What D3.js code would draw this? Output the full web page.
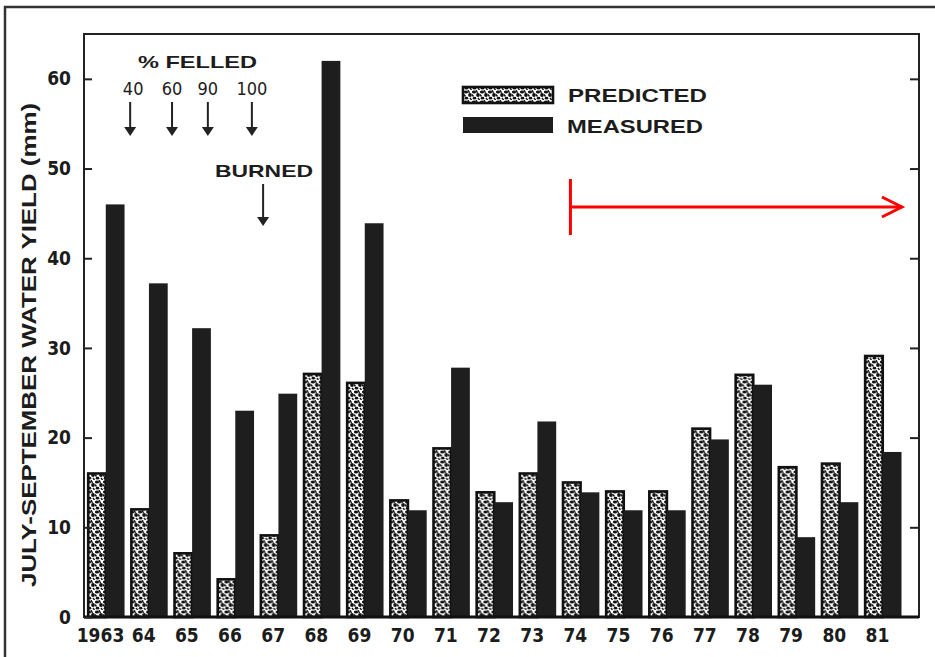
<!DOCTYPE html>
<html>
<head>
<meta charset="utf-8">
<script src="https://cdn.jsdelivr.net/npm/d3@7"></script>
<style>
body { margin: 0; background: #fff; }
text { font-family: "Liberation Sans", Arial, sans-serif; font-weight: bold; fill: #1c1c1c; }
.num { font-family: "DejaVu Sans Condensed", "DejaVu Sans", sans-serif; }
</style>
</head>
<body>
<svg width="935" height="657"></svg>
<script>
// values (mm)
var years = ["1963", "64", "65", "66", "67", "68", "69", "70", "71", "72",
             "73", "74", "75", "76", "77", "78", "79", "80", "81"];
var predicted = [16, 12, 7.1, 4.2, 9.1, 27.1, 26.1, 13, 18.8, 13.9,
                 16, 15, 14, 14, 21, 27, 16.7, 17.1, 29.1];
var measured = [46, 37.2, 32.2, 23, 24.9, 62, 43.9, 11.9, 27.8, 12.8,
                21.8, 13.9, 11.9, 11.9, 19.8, 25.9, 8.9, 12.8, 18.4];
var yTicks = [0, 10, 20, 30, 40, 50, 60];

// treatment notes (year as decimal)
var felledPct = ["40", "60", "90", "100"];
var felledAt = [1964.0, 1964.97, 1965.8, 1966.82];
var burnedAt = 1967.08;
var periodFrom = 1974.2, periodTo = 1981.88;

var svg = d3.select("svg"),
    plotL = 84, plotR = 919, plotT = 34, plotB = 617;

var x = d3.scaleBand()
    .domain(years)
    .range([87, 901.5])
    .paddingInner(0.13)
    .paddingOuter(0);

var xs = d3.scaleBand()
    .domain(["predicted", "measured"])
    .range([0, x.bandwidth()]);

var y = d3.scaleLinear()
    .domain([0, 65])
    .range([plotB, plotT]);

function xAt(yr) { return x.range()[0] + (yr - 1963) * x.step(); }

// speckled fill for predicted bars
var defs = svg.append("defs");
var pat = defs.append("pattern")
    .attr("id", "speck")
    .attr("patternUnits", "userSpaceOnUse")
    .attr("width", 8).attr("height", 10);
pat.append("rect").attr("width", 8).attr("height", 10).attr("fill", "#fff");
pat.append("ellipse").attr("cx", 2).attr("cy", 2).attr("rx", 2.1).attr("ry", 1.6).attr("fill", "#111");
pat.append("ellipse").attr("cx", 6).attr("cy", 5).attr("rx", 1.9).attr("ry", 2).attr("fill", "#111");
pat.append("ellipse").attr("cx", 2.5).attr("cy", 8.2).attr("rx", 1.8).attr("ry", 1.4).attr("fill", "#111");
pat.append("path").attr("d", "M4,0 L5.5,3 M0,4.5 L1.5,6.5 M6,8 L7.5,10").attr("stroke", "#111").attr("stroke-width", 1.4);

// outer border of the scan
svg.append("path")
    .attr("d", "M5,657 L5,7 L935,7")
    .attr("fill", "none")
    .attr("stroke", "#333")
    .attr("stroke-width", 2.5);

// bars
var group = svg.append("g")
  .selectAll("g")
  .data(years)
  .enter().append("g")
    .attr("transform", function(d) { return "translate(" + x(d) + ",0)"; });

group.append("rect")
    .attr("x", xs("predicted") + 1.2)
    .attr("width", xs.bandwidth() - 1.2)
    .attr("y", function(d, i) { return y(predicted[i]); })
    .attr("height", function(d, i) { return plotB - y(predicted[i]); })
    .attr("fill", "url(#speck)")
    .attr("stroke", "#111")
    .attr("stroke-width", 2.6);

group.append("rect")
    .attr("x", xs("measured"))
    .attr("width", xs.bandwidth())
    .attr("y", function(d, i) { return y(measured[i]); })
    .attr("height", function(d, i) { return plotB - y(measured[i]); })
    .attr("fill", "#1e1e1e");

// frame
svg.append("rect")
    .attr("x", plotL).attr("y", plotT)
    .attr("width", plotR - plotL).attr("height", plotB - plotT)
    .attr("fill", "none")
    .attr("stroke", "#222")
    .attr("stroke-width", 2);

svg.append("line")
    .attr("x1", plotL).attr("x2", plotR)
    .attr("y1", plotB).attr("y2", plotB)
    .attr("stroke", "#111")
    .attr("stroke-width", 3);

// axes
var yAxis = svg.append("g")
    .attr("transform", "translate(" + plotL + ",0)")
    .call(d3.axisLeft(y).tickValues(yTicks).tickSize(-8).tickPadding(13));
yAxis.select(".domain").remove();
yAxis.selectAll("line").attr("stroke", "#222").attr("stroke-width", 2);
yAxis.selectAll("text").attr("class", "num").style("font-size", "19px").attr("font-family", null);

var yAxisR = svg.append("g")
    .attr("transform", "translate(" + plotR + ",0)")
    .call(d3.axisRight(y).tickValues(yTicks.slice(1)).tickSize(-9).tickFormat(""));
yAxisR.select(".domain").remove();
yAxisR.selectAll("line").attr("stroke", "#222").attr("stroke-width", 2);

var xAxis = svg.append("g")
    .attr("transform", "translate(" + (13.5 - x.bandwidth() / 2) + "," + plotB + ")")
    .call(d3.axisBottom(x).tickSize(0).tickPadding(12));
xAxis.select(".domain").remove();
xAxis.selectAll("text").attr("class", "num").style("font-size", "19px").attr("font-family", null);

svg.append("text")
    .attr("transform", "translate(36,345) rotate(-90)")
    .attr("text-anchor", "middle")
    .attr("textLength", 484)
    .attr("lengthAdjust", "spacingAndGlyphs")
    .style("font-size", "21px")
    .text("JULY-SEPTEMBER WATER YIELD (mm)");

// annotations
function arrow(g, xp, y1, y2) {
  g.append("line")
      .attr("x1", xp).attr("x2", xp)
      .attr("y1", y1).attr("y2", y2 - 6)
      .attr("stroke", "#222").attr("stroke-width", 2);
  g.append("path")
      .attr("d", "M" + (xp - 6) + "," + (y2 - 9) + " L" + (xp + 6) + "," + (y2 - 9) + " L" + xp + "," + y2 + "Z")
      .attr("fill", "#222");
}

var notes = svg.append("g");
notes.append("text")
    .attr("x", 138).attr("y", 68)
    .attr("textLength", 119)
    .attr("lengthAdjust", "spacingAndGlyphs")
    .style("font-size", "17px")
    .text("% FELLED");

felledPct.forEach(function(p, i) {
  var xp = xAt(felledAt[i]);
  notes.append("text")
      .attr("class", "num")
      .attr("x", xp + (i === 0 ? 3 : 0)).attr("y", 95)
      .attr("text-anchor", "middle")
      .style("font-size", "18px")
      .style("font-weight", "normal")
      .text(p);
  arrow(notes, xp, 102, 136);
});

notes.append("text")
    .attr("x", 215).attr("y", 177)
    .attr("textLength", 98)
    .attr("lengthAdjust", "spacingAndGlyphs")
    .style("font-size", "17px")
    .text("BURNED");
arrow(notes, xAt(burnedAt), 184, 226);

// legend
var legend = svg.append("g");
legend.append("rect")
    .attr("x", 463).attr("y", 87).attr("width", 90).attr("height", 16)
    .attr("fill", "url(#speck)").attr("stroke", "#111").attr("stroke-width", 2.6);
legend.append("rect")
    .attr("x", 463).attr("y", 117).attr("width", 90).attr("height", 16)
    .attr("fill", "#1e1e1e");
legend.append("text")
    .attr("x", 568).attr("y", 102)
    .attr("textLength", 139).attr("lengthAdjust", "spacingAndGlyphs")
    .style("font-size", "18px")
    .text("PREDICTED");
legend.append("text")
    .attr("x", 567).attr("y", 133)
    .attr("textLength", 136).attr("lengthAdjust", "spacingAndGlyphs")
    .style("font-size", "18px")
    .text("MEASURED");

// red period marker
var x1 = xAt(periodFrom), x2 = xAt(periodTo);
var red = svg.append("g")
    .attr("stroke", "#ff0000")
    .attr("stroke-width", 3)
    .attr("fill", "none");
red.append("line").attr("x1", x1).attr("x2", x1).attr("y1", 179).attr("y2", 235);
red.append("line").attr("x1", x1).attr("x2", x2).attr("y1", 207).attr("y2", 207);
red.append("path").attr("d", "M" + (x2 - 20) + ",197 L" + x2 + ",207 L" + (x2 - 20) + ",217");
</script>
</body>
</html>
